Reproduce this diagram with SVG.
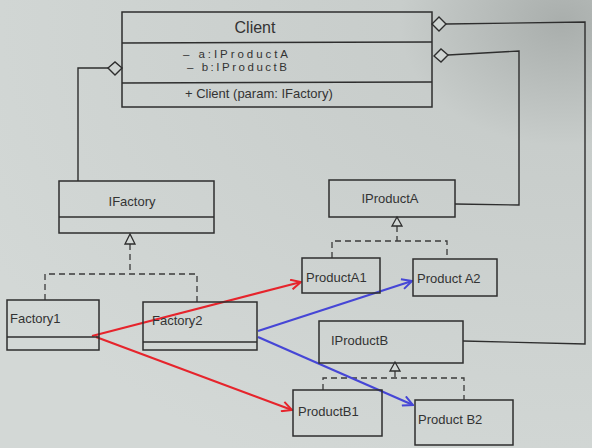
<svg xmlns="http://www.w3.org/2000/svg" width="592" height="448" viewBox="0 0 592 448">
<defs>
<radialGradient id="bg" cx="0.95" cy="0.05" r="1.1">
<stop offset="0" stop-color="#a9aeac"/>
<stop offset="0.25" stop-color="#c8cdcb"/>
<stop offset="1" stop-color="#d3d8d6"/>
</radialGradient>
<marker id="arR" viewBox="0 0 12 12" refX="11" refY="6" markerWidth="12" markerHeight="12" markerUnits="userSpaceOnUse" orient="auto">
<path d="M1,1 L11,6 L1,11" fill="none" stroke="#e6242c" stroke-width="2"/>
</marker>
<marker id="arB" viewBox="0 0 12 12" refX="11" refY="6" markerWidth="12" markerHeight="12" markerUnits="userSpaceOnUse" orient="auto">
<path d="M1,1 L11,6 L1,11" fill="none" stroke="#4646d6" stroke-width="2"/>
</marker>
</defs>
<style>
.box{fill:none;stroke:#2e2e2e;stroke-width:1.5}
.ln{fill:none;stroke:#2e2e2e;stroke-width:1.4}
.dash{fill:none;stroke:#3a3a3a;stroke-width:1.3;stroke-dasharray:6,4}
.tri{fill:#d3d8d6;stroke:#2e2e2e;stroke-width:1.3}
.dia{fill:#d0d5d3;stroke:#2e2e2e;stroke-width:1.4}
text{font-family:"Liberation Sans",Arial,sans-serif;fill:#333;font-size:13px}
.t{font-size:16px}
.s{font-size:11.5px}
.red{fill:none;stroke:#e6242c;stroke-width:2.2}
.blue{fill:none;stroke:#4646d6;stroke-width:2.2}
</style>
<rect width="592" height="448" fill="url(#bg)"/>

<g id="connectors">
<!-- aggregation IFactory -->
<polyline class="ln" points="108,68 78,68 78,181"/>
<polygon class="dia" points="122,68 115,62 108,68 115,75"/>
<!-- aggregation IProductA / IProductB -->
<polyline class="ln" points="446,24 585,22 585,344 463,341"/>
<polygon class="dia" points="432,24 439,17 446,24 439,31"/>
<polyline class="ln" points="448,55 519,51 519,205 455,204"/>
<polygon class="dia" points="434,56 441,49 448,55 441,62"/>
<!-- realization IFactory -->
<polyline class="dash" points="130,244 130,274"/>
<polyline class="dash" points="45,300 45,274 197,274 197,302"/>
<polygon class="tri" points="130,234 125,244 135,244"/>
<!-- realization IProductA -->
<polyline class="dash" points="397,226 397,241"/>
<polyline class="dash" points="332,258 332,241 447,241 447,259"/>
<polygon class="tri" points="397,217 392,226 402,226"/>
<!-- realization IProductB -->
<polyline class="dash" points="395,371 395,378"/>
<polyline class="dash" points="323,390 323,378 464,378 464,400"/>
<polygon class="tri" points="395,362 390,371 400,371"/>
<!-- creation arrows -->
<line class="red" x1="92" y1="336" x2="301" y2="282" marker-end="url(#arR)"/>
<line class="red" x1="96" y1="337" x2="292" y2="410" marker-end="url(#arR)"/>
<line class="blue" x1="258" y1="331" x2="412" y2="281" marker-end="url(#arB)"/>
<line class="blue" x1="258" y1="337" x2="413" y2="405" marker-end="url(#arB)"/>
</g>

<g id="Client">
<rect class="box" x="122" y="12" width="310" height="95"/>
<line class="ln" x1="122" y1="43" x2="432" y2="42"/>
<line class="ln" x1="122" y1="83" x2="432" y2="82"/>
<text class="t" x="255" y="33" text-anchor="middle">Client</text>
<text class="s" x="183" y="58" textLength="105" lengthAdjust="spacing">– a:IProductA</text>
<text class="s" x="187" y="71" textLength="100" lengthAdjust="spacing">– b:IProductB</text>
<text x="185" y="98">+ Client (param: IFactory)</text>
</g>

<g id="IFactory">
<rect class="box" x="59" y="181" width="155" height="52"/>
<line class="ln" x1="59" y1="217" x2="214" y2="217"/>
<text x="132" y="206" text-anchor="middle">IFactory</text>
</g>

<g id="Factory1">
<rect class="box" x="7" y="300" width="92" height="50"/>
<line class="ln" x1="7" y1="337" x2="99" y2="337"/>
<text x="10" y="323">Factory1</text>
</g>

<g id="Factory2">
<rect class="box" x="143" y="302" width="114" height="48"/>
<line class="ln" x1="143" y1="342" x2="257" y2="342"/>
<text x="152" y="325">Factory2</text>
</g>

<g id="IProductA">
<rect class="box" x="329" y="180" width="126" height="37"/>
<text x="390" y="203" text-anchor="middle">IProductA</text>
</g>

<g id="ProductA1">
<rect class="box" x="302" y="258" width="78" height="35"/>
<text x="306" y="282">ProductA1</text>
</g>

<g id="ProductA2">
<rect class="box" x="413" y="259" width="84" height="37"/>
<text x="417" y="283">Product A2</text>
</g>

<g id="IProductB">
<rect class="box" x="319" y="321" width="144" height="42"/>
<text x="331" y="345">IProductB</text>
</g>

<g id="ProductB1">
<rect class="box" x="293" y="390" width="89" height="46"/>
<text x="298" y="416">ProductB1</text>
</g>

<g id="ProductB2">
<rect class="box" x="415" y="400" width="98" height="45"/>
<text x="418" y="424">Product B2</text>
</g>
</svg>
